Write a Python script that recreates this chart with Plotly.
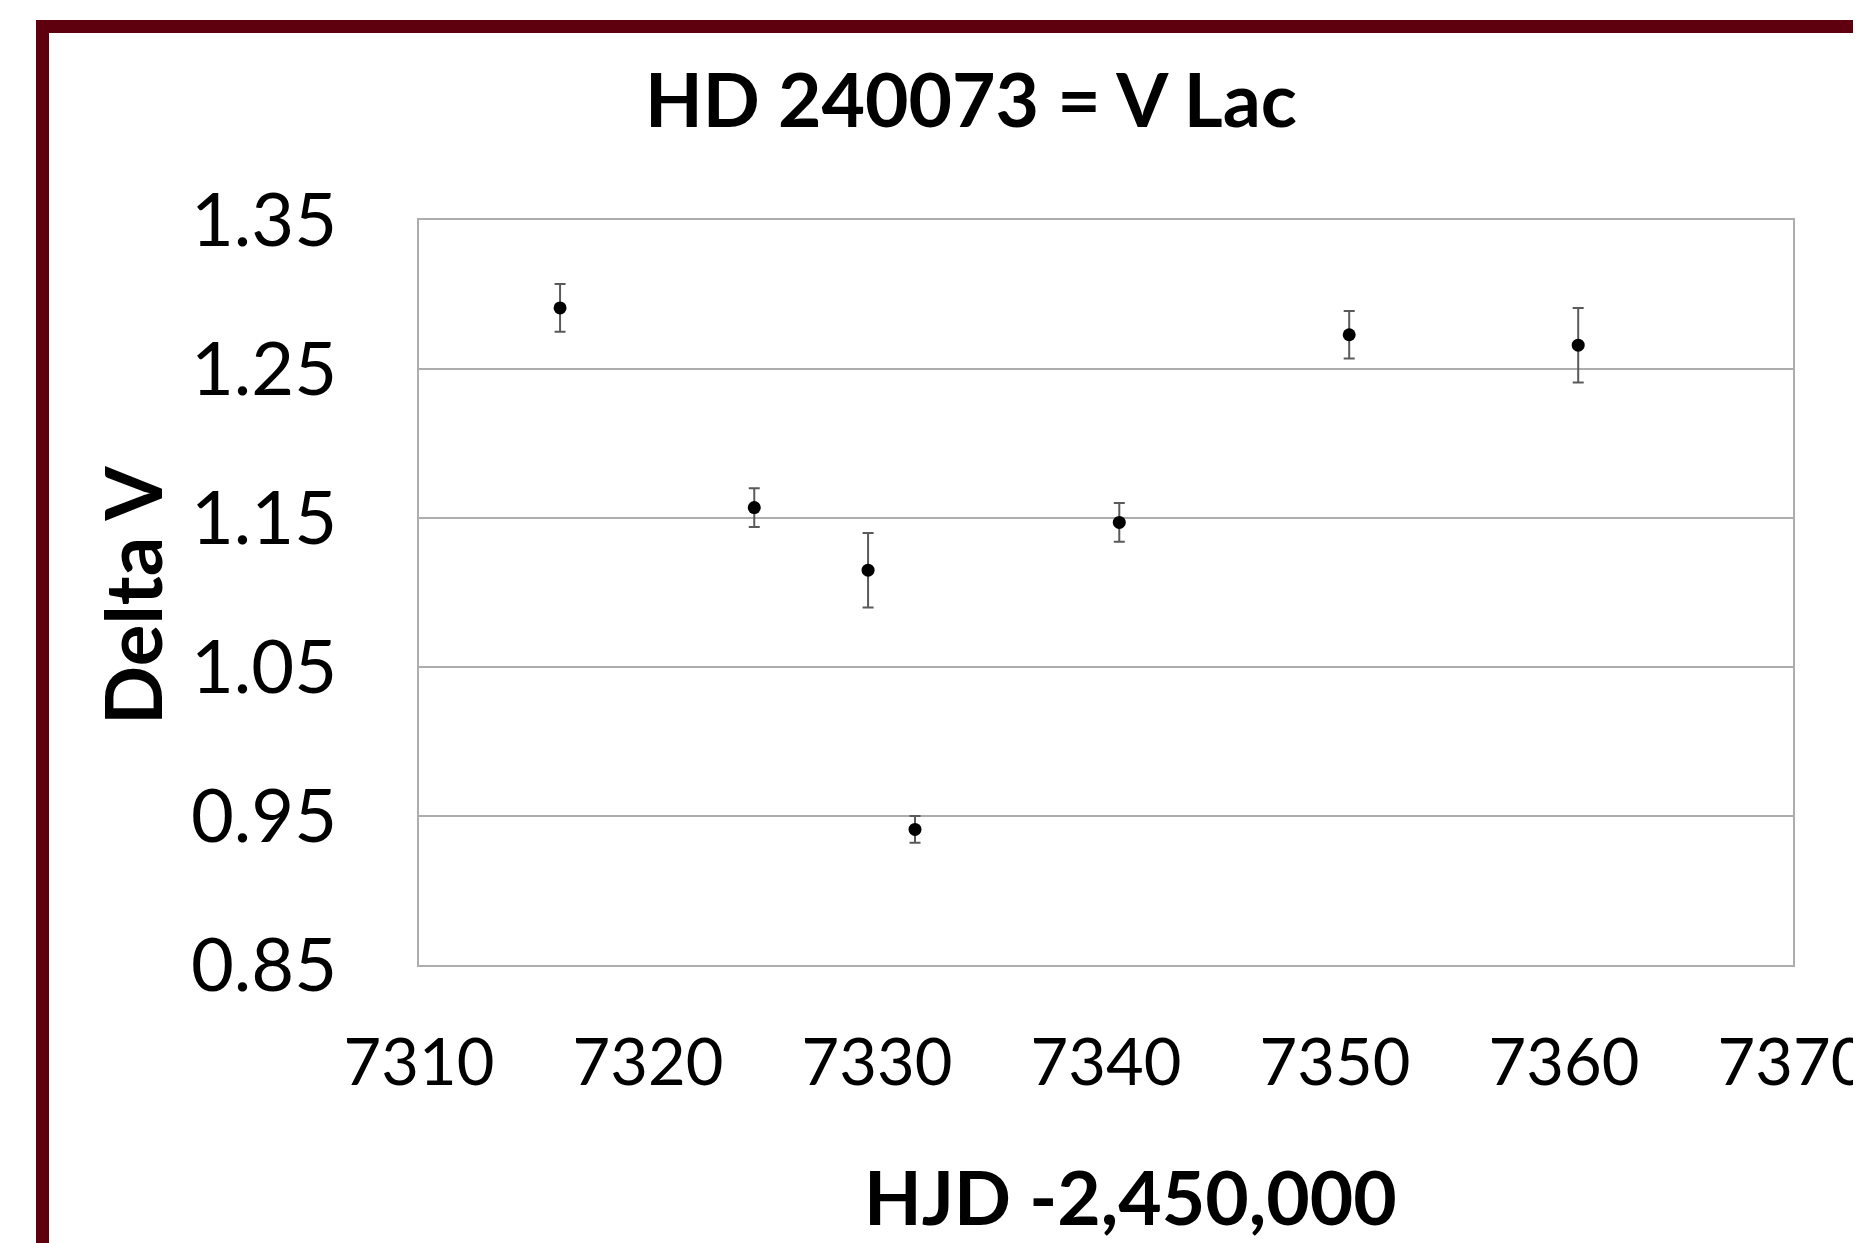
import plotly.graph_objects as go

# Data
hjd = [7316.16, 7324.64, 7329.61, 7331.66, 7340.58, 7350.62, 7360.62]
delta_v = [1.291, 1.157, 1.115, 0.941, 1.147, 1.273, 1.266]
delta_v_err = [0.016, 0.013, 0.025, 0.009, 0.013, 0.016, 0.025]

x_ticks = [7310, 7320, 7330, 7340, 7350, 7360, 7370]
y_ticks = [0.85, 0.95, 1.05, 1.15, 1.25, 1.35]
y_tick_text = ["0.85", "0.95", "1.05", "1.15", "1.25", "1.35"]

title_text = "HD 240073 = V Lac"
x_title = "HJD -2,450,000"
y_title = "Delta V"

# page body has an 8px margin, so the figure is drawn 8px in from the window corner
W, H = 1853, 1235
L, T = 411, 212
pw, ph = 1374, 745
R, B = W - L - pw, H - T - ph

FONT = "Lato"
GRID = "#ADADAD"


def px_x(p):
    return (p - L) / pw


def px_y(p):
    return (T + ph - p) / ph


fig = go.Figure()
fig.add_trace(go.Scatter(
    x=hjd, y=delta_v, mode="markers",
    marker=dict(color="black", size=13),
    error_y=dict(type="data", array=delta_v_err, visible=True,
                 color="#5A5A5A", thickness=2, width=5.5),
    showlegend=False,
))

# dark maroon frame (extends past the right and bottom edges)
fig.add_shape(type="rect", xref="paper", yref="paper",
              x0=px_x(34.5), x1=px_x(1960), y0=px_y(1340), y1=px_y(18.5),
              line=dict(color="#5E000E", width=13), fillcolor="rgba(0,0,0,0)",
              layer="below")

fig.update_layout(
    width=W, height=H,
    margin=dict(l=L, r=R, t=T, b=B, autoexpand=False),
    paper_bgcolor="white", plot_bgcolor="white",
    font=dict(family=FONT, color="black"),
    title=dict(text="<b>" + title_text + "</b>", xref="container", yref="container",
               x=963 / W, xanchor="center", y=1 - 93 / H, yanchor="middle",
               font=dict(family=FONT, size=75, color="black")),
    annotations=[
        dict(text="<b>" + x_title + "</b>", xref="paper", yref="paper",
             x=px_x(1122), y=px_y(1188), xanchor="center", yanchor="middle",
             showarrow=False, font=dict(family=FONT, size=75, color="black")),
        dict(text="<b>" + y_title + "</b>", xref="paper", yref="paper",
             x=px_x(124), y=px_y(588), xanchor="center", yanchor="middle",
             textangle=-90, showarrow=False,
             font=dict(family=FONT, size=78, color="black")),
    ],
)

fig.update_xaxes(
    range=[7310, 7370], tickvals=x_ticks, ticktext=[str(v) for v in x_ticks],
    showgrid=False, zeroline=False,
    showline=True, linecolor=GRID, linewidth=2, mirror=True,
    ticks="outside", ticklen=40, tickcolor="rgba(0,0,0,0)",
    ticklabeloverflow="allow",
    tickfont=dict(family=FONT, size=65, color="black"),
)
fig.update_yaxes(
    range=[0.85, 1.35], tickvals=y_ticks, ticktext=y_tick_text,
    showgrid=True, gridcolor=GRID, gridwidth=2, zeroline=False,
    showline=True, linecolor=GRID, linewidth=2, mirror=True,
    ticks="outside", ticklen=65, tickcolor="rgba(0,0,0,0)",
    ticklabeloverflow="allow",
    tickfont=dict(family=FONT, size=74, color="black"),
)

fig.write_html("out.html")
